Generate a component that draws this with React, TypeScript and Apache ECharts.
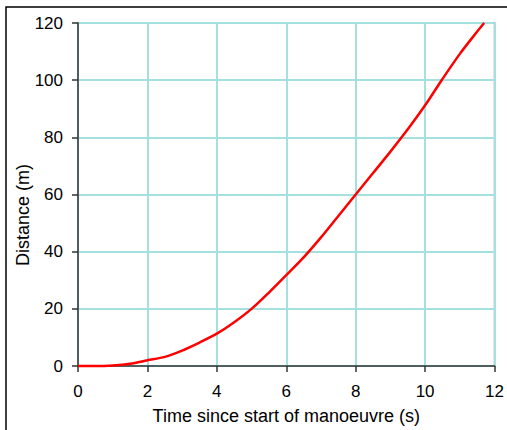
import React, { useEffect, useRef } from "react";
import * as echarts from "echarts";

const timeS = [0, 0.5, 1.0, 1.5, 2.0, 2.5, 3.0, 3.5, 4.0, 4.5, 5.0, 5.5, 6.0, 6.5, 7.0, 7.5, 8.0, 8.5, 9.0, 9.5, 10.0, 10.5, 11.0, 11.5, 11.7];
const distanceM = [0, 0, 0.2, 0.8, 2.0, 3.2, 5.4, 8.2, 11.3, 15.3, 20.0, 25.7, 31.8, 38.0, 45.0, 52.5, 60.0, 67.5, 75.0, 82.8, 91.2, 100.4, 109.2, 117.0, 120.0];
const xTicks = [0, 2, 4, 6, 8, 10, 12];
const yTicks = [0, 20, 40, 60, 80, 100, 120];
const xTitle = "Time since start of manoeuvre (s)";
const yTitle = "Distance (m)";

export default function App() {
  const ref = useRef<HTMLDivElement>(null);
  useEffect(() => {
    if (!ref.current) return;
    const chart = echarts.init(ref.current, null, { renderer: "svg" });
    const font = "'Liberation Sans', Arial, sans-serif";
    const gridColor = "#a4e0e0";
    chart.setOption({
      animation: false,
      backgroundColor: "#ffffff",
      grid: {
        left: 78,
        top: 23,
        right: 10,
        bottom: 62,
        show: true,
        borderColor: "#808080",
        borderWidth: 1.5,
        containLabel: false,
      },
      xAxis: {
        type: "value",
        min: xTicks[0],
        max: xTicks[xTicks.length - 1],
        interval: 2,
        name: xTitle,
        nameLocation: "middle",
        nameGap: 41,
        nameTextStyle: { fontFamily: font, fontSize: 18, color: "#000" },
        axisLine: { show: true, lineStyle: { color: "#333", width: 1.5 } },
        axisTick: { show: true, length: 6, inside: false, lineStyle: { color: "#333", width: 1.5 } },
        axisLabel: { fontFamily: font, fontSize: 17, color: "#000", margin: 17 },
        splitLine: { show: true, lineStyle: { color: gridColor, width: 2 } },
      },
      yAxis: {
        type: "value",
        min: yTicks[0],
        max: yTicks[yTicks.length - 1],
        interval: 20,
        axisLine: { show: true, lineStyle: { color: "#333", width: 1.5 } },
        axisTick: { show: true, length: 6, inside: false, lineStyle: { color: "#333", width: 1.5 } },
        axisLabel: { fontFamily: font, fontSize: 17, color: "#000", margin: 15 },
        splitLine: { show: true, lineStyle: { color: gridColor, width: 2 } },
      },
      graphic: [
        {
          type: "rect",
          shape: { x: 6, y: 7, width: 700, height: 700 },
          style: { fill: "none", stroke: "#000", lineWidth: 1.5 },
          silent: true,
        },
        {
          type: "text",
          x: 23,
          y: 215,
          rotation: Math.PI / 2,
          style: {
            text: yTitle,
            fontFamily: font,
            fontSize: 18,
            fill: "#000",
            align: "center",
            verticalAlign: "middle",
          },
        },
      ],
      series: [
        {
          type: "line",
          data: timeS.map((t, i) => [t, distanceM[i]]),
          showSymbol: false,
          smooth: 0.3,
          lineStyle: { color: "#ff0000", width: 2.5 },
          clip: false,
        },
      ],
    });
    return () => chart.dispose();
  }, []);
  return (
    <div
      ref={ref}
      style={{ position: "fixed", left: 0, top: 0, width: 507, height: 430 }}
    />
  );
}
